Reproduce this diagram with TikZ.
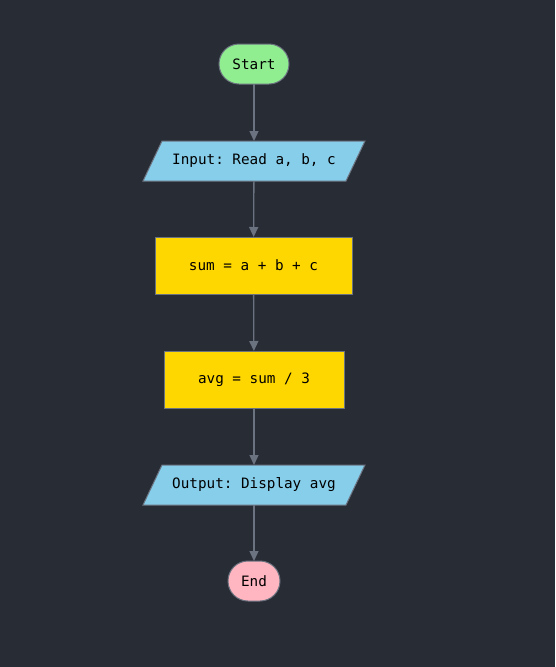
\documentclass[tikz,border=0pt]{standalone}
\usepackage{fontspec}
\setmonofont{DejaVu Sans Mono}
\usetikzlibrary{shapes.misc,arrows.meta}
\definecolor{bg}{HTML}{282C34}
\definecolor{edge}{HTML}{6B7280}
\definecolor{startc}{HTML}{90EE90}
\definecolor{ioc}{HTML}{87CEEB}
\definecolor{procc}{HTML}{FFD700}
\definecolor{endc}{HTML}{FFB6C1}
\pgfdeclarelayer{bglayer}
\pgfdeclarelayer{shapelayer}
\pgfsetlayers{bglayer,shapelayer,main}
\tikzset{
  base/.style={draw=edge, line width=1pt, font=\ttfamily\fontsize{14.3}{16}\selectfont, text=black, inner sep=0pt, outer sep=0pt},
  term/.style={base, rounded rectangle, minimum height=40pt},
  io/.style={base, draw=none, rectangle, minimum height=40pt, minimum width=203pt},
  iofill/.style={draw=edge, line width=1pt, fill=ioc},
  proc/.style={base, fill=procc, rectangle, minimum height=57pt},
  flow/.style={draw=edge, line width=1.3pt, -{Triangle[length=10pt,width=9pt]}}
}
\newcommand{\ioshape}[1]{%
  \begin{pgfonlayer}{shapelayer}
  \draw[iofill] ([xshift=9.5pt]#1.north west) -- ([xshift=9.5pt]#1.north east)
    -- ([xshift=-9.5pt]#1.south east) -- ([xshift=-9.5pt]#1.south west) -- cycle;
  \end{pgfonlayer}}
\begin{document}
\begin{tikzpicture}[x=1pt,y=-1pt]
\begin{pgfonlayer}{bglayer}
\fill[bg] (0,0) rectangle (555,667);
\end{pgfonlayer}
\useasboundingbox (0,0) rectangle (555,667);
\node[term, fill=startc, minimum width=70pt] (start) at (254,64) {Start};
\node[io] (input) at (254,161) {Input: Read a, b, c};
\ioshape{input}
\node[proc, minimum width=197pt] (sum) at (253.5,265.5) {sum = a + b + c};
\node[proc, minimum width=180pt] (avg) at (254,379.5) {avg = sum / 3};
\node[io] (output) at (254,485) {Output: Display avg};
\ioshape{output}
\node[term, fill=endc, minimum width=52pt] (end) at (254,581) {End};
\draw[flow] (start) -- (input);
\draw[flow] (input) -- (sum);
\draw[flow] (sum) -- (avg);
\draw[flow] (avg) -- (output);
\draw[flow] (output) -- (end);
\end{tikzpicture}
\end{document}
